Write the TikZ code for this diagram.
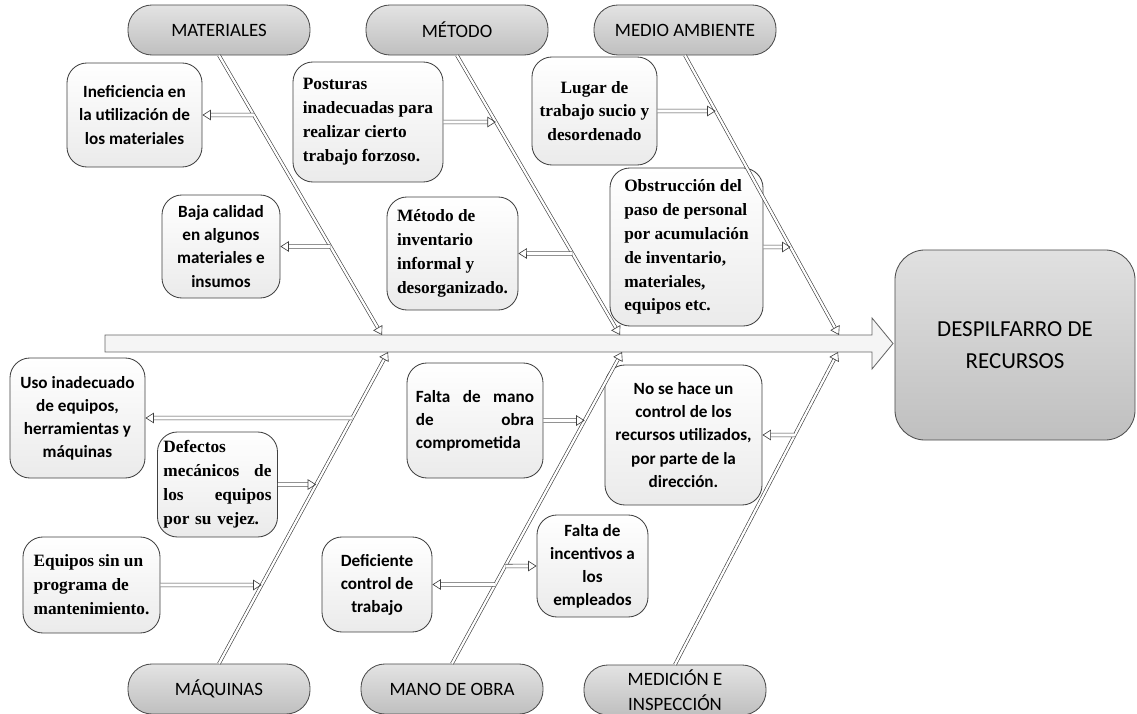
\documentclass[tikz,border=0pt]{standalone}
\usepackage{fontspec}
\setmainfont{Liberation Serif}
\setsansfont{Carlito}
\usetikzlibrary{arrows.meta}
\tikzstyle{categ}=[draw=black!70, line width=0.6pt, rounded corners=0.6cm, top color=black!11, bottom color=black!25, minimum width=4.55cm, minimum height=1.25cm, inner sep=0pt, align=center, font=\sffamily\fontsize{13.4}{17.8}\selectfont]
\tikzstyle{efecto}=[draw=black!70, line width=0.6pt, rounded corners=0.75cm, top color=black!12, bottom color=black!25, minimum width=6cm, minimum height=4.75cm, align=center, font=\sffamily\fontsize{16.3}{22.8}\selectfont]
\tikzstyle{causa}=[draw=black!75, line width=0.6pt, rounded corners=0.5cm, top color=white, bottom color=black!8, inner xsep=0.15cm, inner ysep=1pt]
\tikzstyle{sans}=[causa, align=center, font=\sffamily\bfseries\fontsize{12.2}{16.4}\selectfont]
\tikzstyle{serif}=[causa, align=left, font=\rmfamily\bfseries\fontsize{12.3}{17}\selectfont]
\tikzstyle{hueso}=[draw=black!75, line width=0.45pt, double=white, double distance=1.6pt, -{Triangle[open, length=6pt, width=7.5pt]}]
\tikzstyle{flecha}=[hueso, double distance=2.2pt]
\newcommand{\categoria}{\node[categ]}
\newcommand{\csans}{\node[sans]}
\newcommand{\cserif}{\node[serif]}

\begin{document}
\begin{tikzpicture}[x=0.025cm, y=-0.025cm]
\useasboundingbox (0,0) rectangle (1137,714);
\filldraw[draw=black!60, fill=black!4, line width=0.6pt]
  (105,335) -- (872,335) -- (872,318) -- (893,343.5) -- (872,369) -- (872,352) -- (105,352) -- cycle;
\node[efecto] (z) at (1015,345) {DESPILFARRO DE\\RECURSOS};
\categoria (a) at (219,30) {MATERIALES};
\categoria (b) at (457,30) {MÉTODO};
\categoria (c) at (685,30) {MEDIO AMBIENTE};
\categoria (d) at (219,689) {MÁQUINAS};
\categoria (e) at (452,689) {MANO DE OBRA};
\categoria (f) at (675,690) {MEDICIÓN E\\INSPECCIÓN};
\coordinate (sa) at (382,335);
\coordinate (sb) at (620,335);
\coordinate (sc) at (839,335);
\coordinate (sd) at (388,352);
\coordinate (se) at (622,352);
\coordinate (sf) at (838,352);
\csans (a1) at (134.5,115) [minimum width=3.375cm, minimum height=2.6cm] {Ineficiencia en\\la utilización de\\los materiales};
\csans (a2) at (221,246.5) [minimum width=2.95cm, minimum height=2.575cm] {Baja calidad\\en algunos\\materiales e\\insumos};
\cserif (b1) at (368,122) [minimum width=3.75cm, minimum height=3cm] {Posturas\\inadecuadas para\\realizar cierto\\trabajo forzoso.};
\cserif (b2) at (452.5,253.5) [minimum width=3.275cm, minimum height=2.825cm] {Método de\\inventario\\informal y\\desorganizado.};
\cserif (c1) at (594.5,111) [minimum width=3.125cm, minimum height=2.7cm, align=center] {Lugar de\\trabajo sucio y\\desordenado};
\cserif (c2) at (686.5,247) [minimum width=3.825cm, minimum height=3.95cm] {Obstrucción del\\paso de personal\\por acumulación\\de inventario,\\materiales,\\equipos etc.};
\csans (d1) at (77.5,418) [minimum width=3.375cm, minimum height=3cm] {Uso inadecuado\\de equipos,\\herramientas y\\máquinas};
\cserif (d2) at (217.5,484.5) [minimum width=2.975cm, minimum height=2.625cm, text width=2.7cm] {Defectos\\mecánicos\hfill de\\los\hfill equipos\\por su vejez.};
\cserif (d3) at (91.5,585) [minimum width=3.425cm, minimum height=2.4cm] {Equipos sin un\\programa de\\mantenimiento.};
\csans (e1) at (475,420.5) [minimum width=3.4cm, minimum height=2.875cm, text width=2.95cm, align=left] {Falta\hfill de\hfill mano\\de\hfill obra\\comprometida};
\csans (e2) at (377,584.5) [minimum width=2.75cm, minimum height=2.375cm] {Deficiente\\control de\\trabajo};
\csans (e3) at (592.5,566) [minimum width=2.775cm, minimum height=2.55cm] {Falta de\\incentivos a\\los\\empleados};
\csans (f1) at (683.5,435) [minimum width=3.925cm, minimum height=3.5cm] {No se hace un\\control de los\\recursos utilizados,\\por parte de la\\dirección.};
\coordinate (pa1) at (intersection of a.south--sa and a1.east--a1.west);
\coordinate (pa2) at (intersection of a.south--sa and a2.east--a2.west);
\coordinate (pb1) at (intersection of b.south--sb and b1.east--b1.west);
\coordinate (pb2) at (intersection of b.south--sb and b2.east--b2.west);
\coordinate (pc1) at (intersection of c.south--sc and c1.east--c1.west);
\coordinate (pc2) at (intersection of c.south--sc and c2.east--c2.west);
\coordinate (pd1) at (intersection of d.north--sd and d1.east--d1.west);
\coordinate (pd2) at (intersection of d.north--sd and d2.east--d2.west);
\coordinate (pd3) at (intersection of d.north--sd and d3.east--d3.west);
\coordinate (pe1) at (intersection of e.north--se and e1.east--e1.west);
\coordinate (pe2) at (intersection of e.north--se and e2.east--e2.west);
\coordinate (pe3) at (intersection of e.north--se and e3.east--e3.west);
\coordinate (pf1) at (intersection of f.north--sf and f1.east--f1.west);
\path
(a.south) edge[hueso] (sa)
(b.south) edge[hueso] (sb)
(c.south) edge[hueso] (sc)
(d.north) edge[hueso] (sd)
(e.north) edge[hueso] (se)
(f.north) edge[hueso] (sf)
;
\path
(pa1) edge[flecha] (a1.east)
(pa2) edge[flecha] (a2.east)
(b1.east) edge[flecha] (pb1)
(pb2) edge[flecha] (b2.east)
(c1.east) edge[flecha] (pc1)
(c2.east) edge[flecha] (pc2)
(pd1) edge[flecha] (d1.east)
(d2.east) edge[flecha] (pd2)
(d3.east) edge[flecha] (pd3)
(e1.east) edge[flecha] (pe1)
(pe2) edge[flecha] (e2.east)
(pe3) edge[flecha] (e3.west)
(pf1) edge[flecha] (f1.east)
;
\end{tikzpicture}
\end{document}
